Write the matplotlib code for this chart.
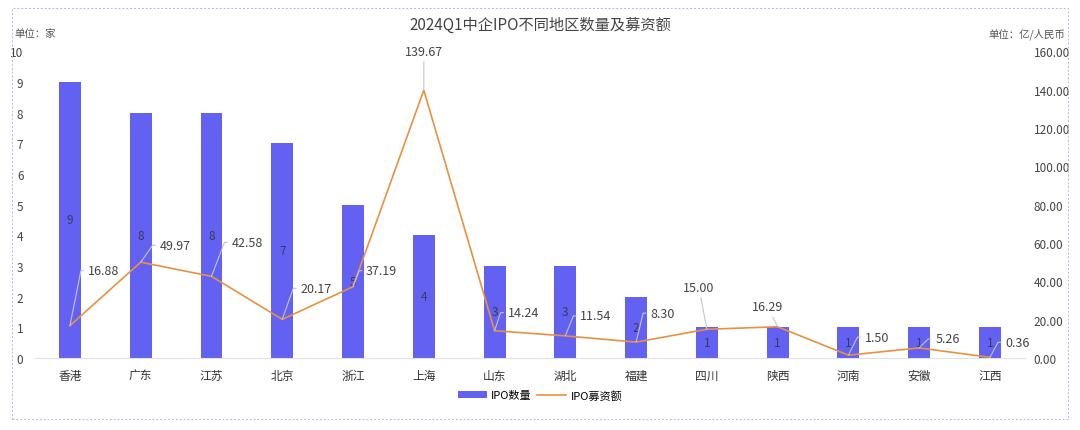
import matplotlib.pyplot as plt
import numpy as np
from matplotlib.patches import Rectangle

plt.rcParams['font.family'] = ['Noto Sans CJK SC', 'DejaVu Sans']

regions = ['香港', '广东', '江苏', '北京', '浙江', '上海', '山东',
           '湖北', '福建', '四川', '陕西', '河南', '安徽', '江西']
ipo_count = [9, 8, 8, 7, 5, 4, 3, 3, 2, 1, 1, 1, 1, 1]
ipo_amount = [16.88, 49.97, 42.58, 20.17, 37.19, 139.67, 14.24,
              11.54, 8.30, 15.00, 16.29, 1.50, 5.26, 0.36]

# label offsets (pixels) for the amount labels: (dx, dy, ha)
label_offsets = [(18, 55, 'left'), (19, 17, 'left'), (20, 34, 'left'),
                 (18, 31, 'left'), (13, 16, 'left'), (0, 39, 'center'),
                 (13, 18, 'left'), (15, 20, 'left'), (14, 29, 'left'),
                 (-8, 42, 'center'), (-10, 20, 'center'), (16, 18, 'left'),
                 (16, 9, 'left'), (15, 15, 'left')]

bar_color = '#6361F1'
line_color = '#E8913E'

fig = plt.figure(figsize=(10.8, 4.31), dpi=100)
ax = fig.add_axes([0.032, 0.167, 0.9174, 0.712])
ax2 = ax.twinx()

x = np.arange(len(regions))
ax.bar(x, ipo_count, width=0.31, color=bar_color, label='IPO数量', zorder=2)
ax2.plot(x, ipo_amount, color=line_color, lw=1.2, label='IPO募资额', zorder=3)

for xi, v in zip(x, ipo_count):
    ax.text(xi, v / 2, str(v), ha='center', va='center', fontsize=8.5,
            color='#3a3a5a', zorder=4)

for xi, v, (dx, dy, ha) in zip(x, ipo_amount, label_offsets):
    if ha == 'left':
        ang = np.degrees(np.arctan2(dy, dx - 7))
        conn = f'angle,angleA=180,angleB={ang:.1f},rad=0'
    else:
        conn = 'arc3'
    ax2.annotate(f'{v:.2f}', xy=(xi, v), xytext=(dx, dy),
                 textcoords='offset pixels', ha=ha, va='center',
                 fontsize=9, color='#444444', zorder=5,
                 arrowprops=dict(arrowstyle='-', color='#c4c4cc', lw=0.8,
                                 shrinkA=1, shrinkB=0, connectionstyle=conn))

ax.set_xlim(-0.5, len(regions) - 0.5)
ax.set_ylim(0, 10)
ax.set_yticks(range(0, 11))
ax2.set_ylim(0, 160)
ax2.set_yticks(range(0, 161, 20))
ax2.set_yticklabels([f'{t:.2f}' for t in range(0, 161, 20)])

ax.set_xticks(x)
ax.set_xticklabels(regions)

for a in (ax, ax2):
    for s in a.spines.values():
        s.set_visible(False)
    a.tick_params(length=0, labelsize=8.5, colors='#444444')
ax.spines['bottom'].set_visible(True)
ax.spines['bottom'].set_color('#e0e0e6')
ax.tick_params(axis='x', pad=8, labelsize=8.5, colors='#333333')
ax.tick_params(axis='y', pad=8)
ax2.tick_params(axis='y', pad=6)

fig.text(0.5, 0.942, '2024Q1中企IPO不同地区数量及募资额', ha='center',
         va='center', fontsize=11, color='#444444')
fig.text(0.013, 0.921, '单位：家', ha='left', va='center', fontsize=7.5,
         color='#555555')
fig.text(0.986, 0.921, '单位：亿/人民币', ha='right', va='center',
         fontsize=7.5, color='#555555')

h1, l1 = ax.get_legend_handles_labels()
h2, l2 = ax2.get_legend_handles_labels()
fig.legend(h1 + h2, l1 + l2, loc='center', bbox_to_anchor=(0.5, 0.081),
           ncol=2, frameon=False, fontsize=8, handlelength=2.6,
           columnspacing=0.5, handletextpad=0.4)

fig.patches.append(Rectangle((0.011, 0.025), 0.978, 0.955,
                             transform=fig.transFigure, fill=False,
                             edgecolor='#b4b4e0', lw=0.7, ls=(0, (2, 2))))

fig.savefig('out.png', dpi=100)
